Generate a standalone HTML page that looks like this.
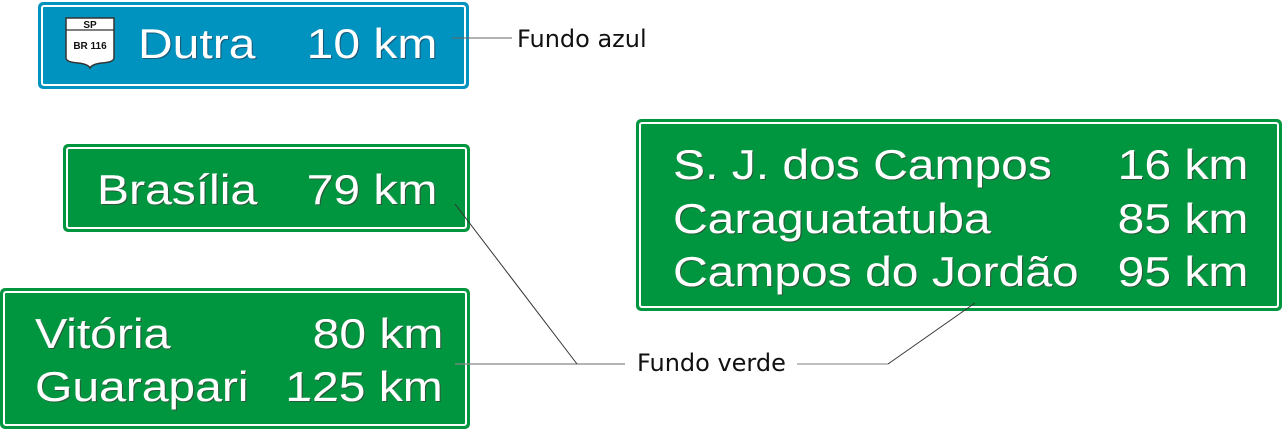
<!DOCTYPE html>
<html><head><meta charset="utf-8"><style>
html,body{margin:0;padding:0;background:#fff;}
body{width:1283px;height:430px;position:relative;overflow:hidden;font-family:"Liberation Sans",Arial,sans-serif;}
.sign{position:absolute;border-radius:5px;box-sizing:border-box;}
.sign::after{content:"";position:absolute;left:3px;top:3px;right:3px;bottom:3px;border:2px solid #fff;border-radius:3px;}
.g{background:#00963f;}
.b{background:#0093bf;}
.t{position:absolute;color:#fff;font-size:42px;line-height:1;white-space:nowrap;text-shadow:1px 1px 0 #2a5a3a,0.5px 0 0 #fff;transform:scaleX(1.143);transform-origin:left top;}
.r{transform-origin:right top;}
.lbl{position:absolute;font-family:"DejaVu Sans","Liberation Sans",sans-serif;font-size:24px;color:#111;white-space:nowrap;}
</style></head><body>
<div class="sign b" style="left:38px;top:2px;width:431px;height:87px;"></div>
<svg style="position:absolute;left:62px;top:16px" width="56" height="54" viewBox="0 0 56 54">
<path d="M4 2 H52 V42 Q52 46 40 47 Q30 48 28 52 Q26 48 16 47 Q4 46 4 42 Z" fill="#fff" stroke="#333" stroke-width="1.5"/>
<line x1="4" y1="14" x2="52" y2="14" stroke="#333" stroke-width="1.2"/>
<text x="28" y="12" text-anchor="middle" font-family="Liberation Sans" font-weight="bold" font-size="10" fill="#111">SP</text>
<text x="28" y="33" text-anchor="middle" font-family="Liberation Sans" font-weight="bold" font-size="10" fill="#111">BR 116</text>
</svg>
<div class="t" style="left:138px;top:23px;text-shadow:1px 1px 0 #1a5a7a">Dutra</div>
<div class="t r" style="right:846px;top:23px;text-shadow:1px 1px 0 #1a5a7a">10 km</div>

<div class="sign g" style="left:63px;top:144px;width:407px;height:88px;"></div>
<div class="t" style="left:97px;top:169px">Brasília</div>
<div class="t r" style="right:846px;top:169px">79 km</div>

<div class="sign g" style="left:0;top:288px;width:470px;height:141px;"></div>
<div class="t" style="left:35px;top:313px">Vitória</div>
<div class="t r" style="right:840px;top:313px">80 km</div>
<div class="t" style="left:35px;top:366px">Guarapari</div>
<div class="t r" style="right:840px;top:366px">125 km</div>

<div class="sign g" style="left:636px;top:119px;width:646px;height:192px;"></div>
<div class="t" style="left:673px;top:144px">S. J. dos Campos</div>
<div class="t r" style="right:35px;top:144px">16 km</div>
<div class="t" style="left:673px;top:198px">Caraguatatuba</div>
<div class="t r" style="right:35px;top:198px">85 km</div>
<div class="t" style="left:673px;top:251px">Campos do Jordão</div>
<div class="t r" style="right:35px;top:251px">95 km</div>

<svg style="position:absolute;left:0;top:0" width="1283" height="430">
<line x1="452" y1="38" x2="512" y2="38" stroke="#666" stroke-width="1"/>
<line x1="455" y1="364" x2="625" y2="364" stroke="#888" stroke-width="1.2"/>
<line x1="455" y1="204" x2="577" y2="364" stroke="#333" stroke-width="1"/>
<line x1="797" y1="364" x2="888" y2="364" stroke="#999" stroke-width="1.2"/>
<line x1="888" y1="364" x2="975" y2="303" stroke="#333" stroke-width="1"/>
</svg>
<div class="lbl" style="left:517px;top:25px">Fundo azul</div>
<div class="lbl" style="left:637px;top:349px">Fundo verde</div>
</body></html>
